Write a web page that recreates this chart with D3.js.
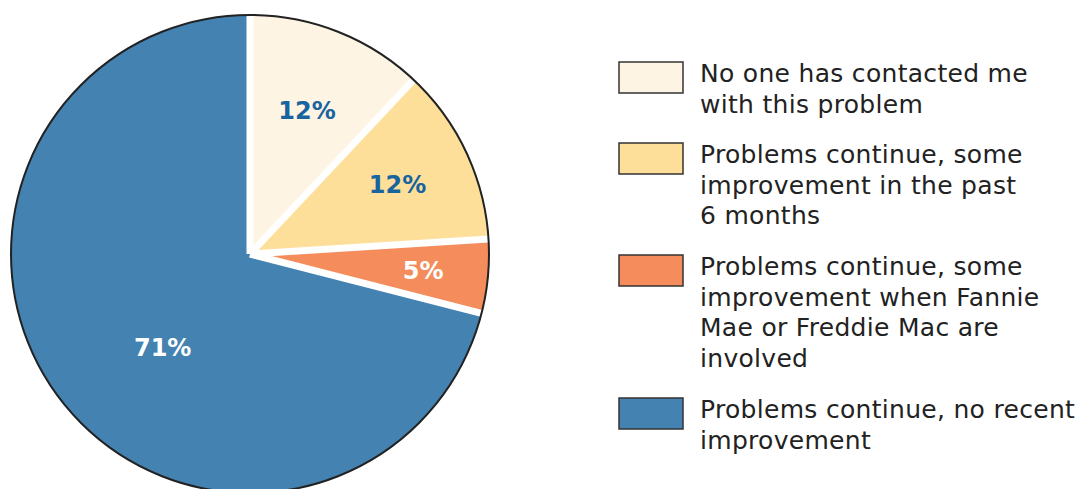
<!DOCTYPE html>
<html><head><meta charset="utf-8">
<script src="https://cdn.jsdelivr.net/npm/d3@7"></script>
<style>body{margin:0;background:#fff}svg{display:block}</style>
</head><body>
<svg id="c" width="1078" height="489"></svg>
<script>
const categories = ["No one has contacted me with this problem","Problems continue, some improvement in the past 6 months","Problems continue, some improvement when Fannie Mae or Freddie Mac are involved","Problems continue, no recent improvement"];
const values = [12, 12, 5, 71];
const legendLines = [["No one has contacted me","with this problem"],["Problems continue, some","improvement in the past","6 months"],["Problems continue, some","improvement when Fannie","Mae or Freddie Mac are","involved"],["Problems continue, no recent","improvement"]];
const colors = ["#FEF4E3","#FDDF9A","#F48C5B","#4482B1"];
const labelColors = ["#17649F","#17649F","#ffffff","#ffffff"];

const svg = d3.select("#c");
const cx = 250, cy = 254, r = 239;
const g = svg.append("g").attr("transform", `translate(${cx},${cy})`);
const pie = d3.pie().sort(null).value(d => d);
const arcs = pie(values);
const arc = d3.arc().innerRadius(0).outerRadius(r);
g.selectAll("path.s").data(arcs).join("path").attr("class","s")
  .attr("d", arc).attr("fill", (d,i)=>colors[i]);
// white radial separators
g.selectAll("line.sep").data(arcs).join("line").attr("class","sep")
  .attr("x1",0).attr("y1",0)
  .attr("x2",d=>Math.sin(d.startAngle)*r).attr("y2",d=>-Math.cos(d.startAngle)*r)
  .attr("stroke","#fff").attr("stroke-width",7);
g.append("circle").attr("r", r).attr("fill","none").attr("stroke","#222").attr("stroke-width",2);

const labelR = [155, 163, 174, 128];
const angOff = [0, 0, 0, -0.16];
g.selectAll("text.l").data(arcs).join("text").attr("class","l")
  .attr("x",(d,i)=>{const a=(d.startAngle+d.endAngle)/2+angOff[i];return Math.sin(a)*labelR[i];})
  .attr("y",(d,i)=>{const a=(d.startAngle+d.endAngle)/2+angOff[i];return -Math.cos(a)*labelR[i];})
  .attr("dy","0.36em").attr("text-anchor","middle")
  .attr("font-family","DejaVu Sans, sans-serif").attr("font-weight","bold").attr("font-size",24)
  .attr("fill",(d,i)=>labelColors[i]).text(d=>d.data+"%");

const lx = 619, boxW = 64, boxH = 31, lh = 30.7;
const boxTops = [62, 143, 255, 398];
const lg = svg.append("g");
legendLines.forEach((lines,i)=>{
  lg.append("rect").attr("x",lx).attr("y",boxTops[i]).attr("width",boxW).attr("height",boxH)
    .attr("fill",colors[i]).attr("stroke","#333").attr("stroke-width",1.5);
  const t = lg.append("text").attr("x",700).attr("y",boxTops[i]+20)
    .attr("font-family","DejaVu Sans, sans-serif").attr("font-size",25).attr("letter-spacing",0.3).attr("fill","#222");
  lines.forEach((ln,j)=>t.append("tspan").attr("x",700).attr("dy", j===0?0:lh).text(ln));
});
</script>
</body></html>
